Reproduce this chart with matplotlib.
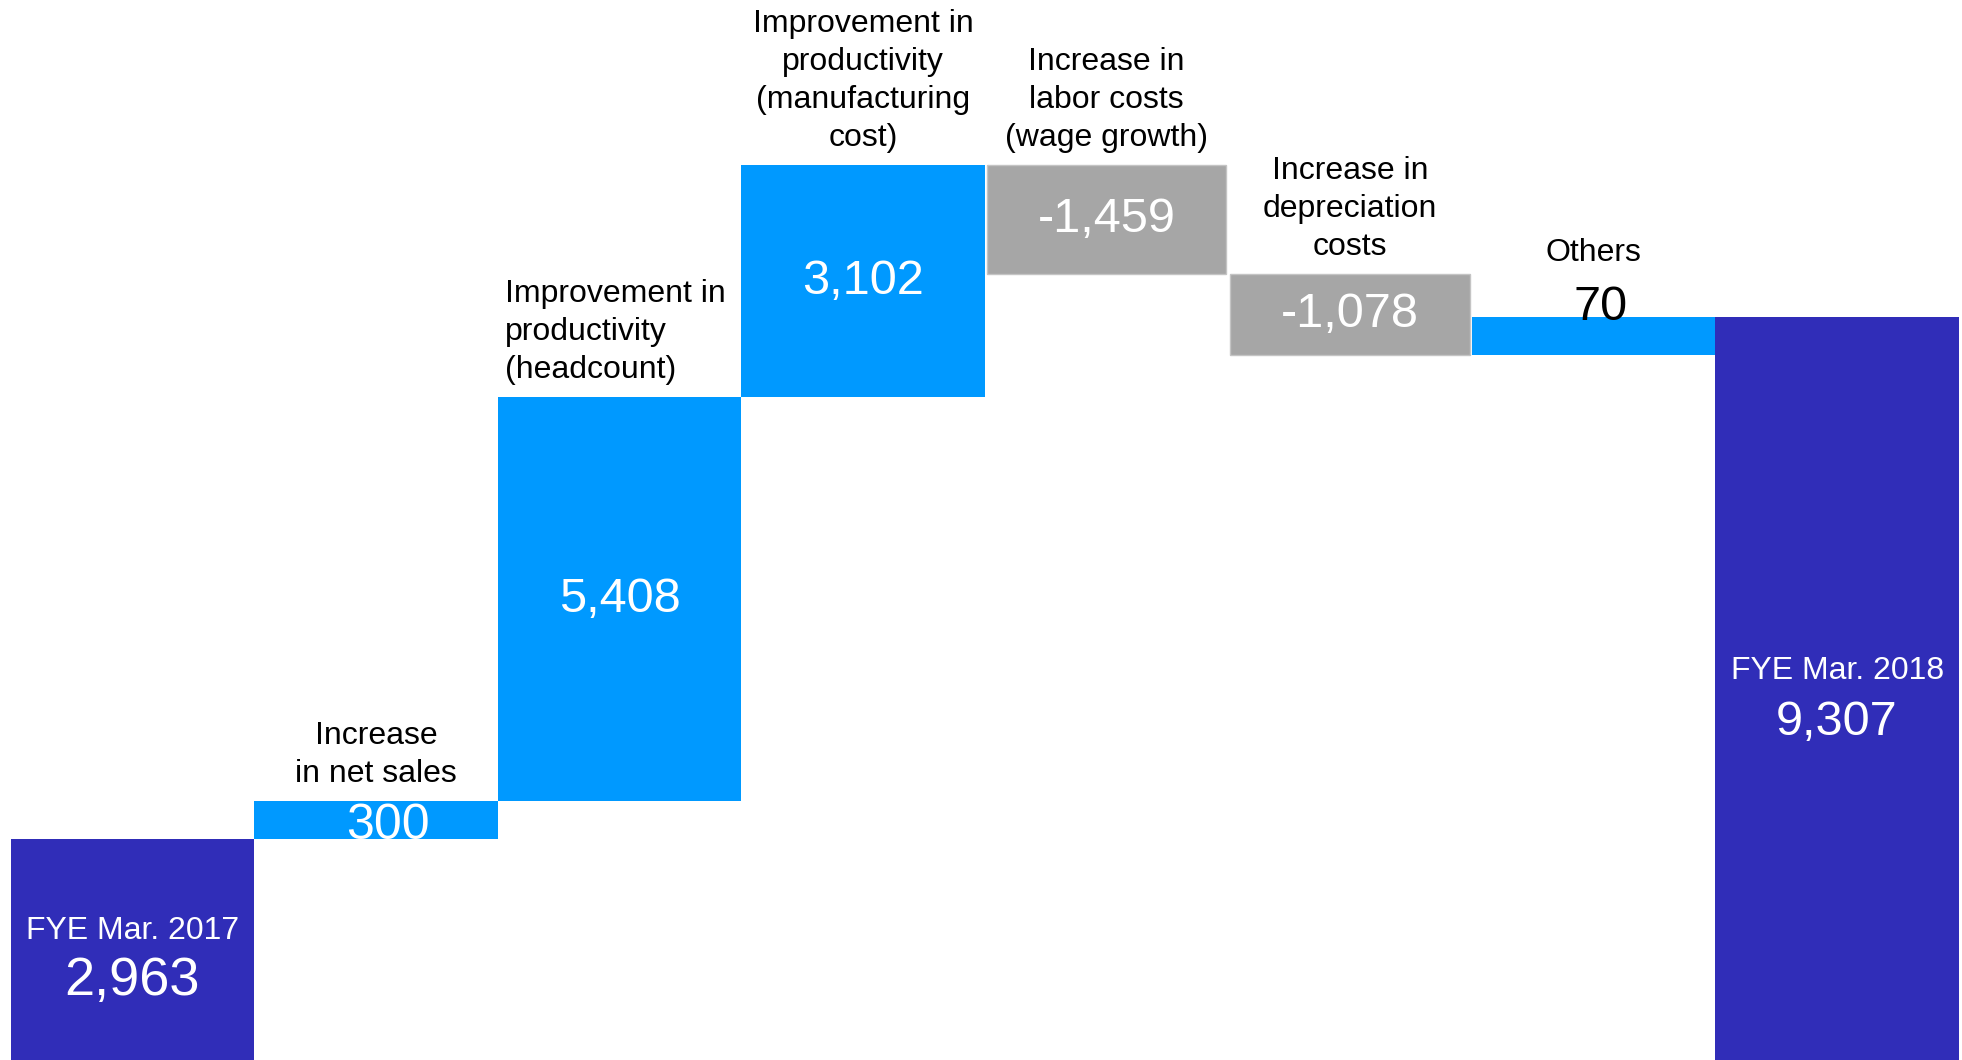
import matplotlib
matplotlib.use("Agg")
import matplotlib.pyplot as plt

plt.rcParams['font.family'] = ['Liberation Sans', 'DejaVu Sans']

# data
steps = ["FYE Mar. 2017", "Increase\nin net sales", "Improvement in\nproductivity\n(headcount)",
         "Improvement in\nproductivity\n(manufacturing\ncost)", "Increase in\nlabor costs\n(wage growth)",
         "Increase in\ndepreciation\ncosts", "Others", "FYE Mar. 2018"]
values = [2963, 300, 5408, 3102, -1459, -1078, 70, 9307]
kinds = ["total", "up", "up", "up", "down", "down", "up", "total"]

DARK = '#302DB8'
BLUE = '#0099FF'
GRAY = '#A6A6A6'
MIN_H = 500  # small steps are drawn with a minimum visible height

fig = plt.figure(figsize=(19.62, 10.6), dpi=100)
ax = fig.add_axes([0, 0, 1, 1])

level = 0
for i, (lab, v, k) in enumerate(zip(steps, values, kinds)):
    if k == "total":
        bottom = 0
        h = v if i == 0 else level
        level = h
        ax.bar(i, h, bottom=0, width=1.0, color=DARK, linewidth=0)
    else:
        h = max(abs(v), MIN_H)
        if v >= 0:
            bottom = level
            level += h
            ax.bar(i, h, bottom=bottom, width=1.0, color=BLUE, linewidth=0)
        else:
            level -= h
            bottom = level
            ax.bar(i, h, bottom=bottom, width=0.985, color=GRAY,
                   edgecolor='#C4C4C4', linewidth=1)
    top = bottom + h
    txt = "{:,}".format(v)

    if k == "total":
        mid = top / 2
        ax.annotate(lab, (i, mid), xytext=(0, 10), textcoords='offset pixels',
                    ha='center', va='baseline', color='white', fontsize=23)
        ax.annotate(txt, (i, mid), xytext=(0, -46), textcoords='offset pixels',
                    ha='center', va='baseline', color='white',
                    fontsize=39 if i == 0 else 35)
        continue

    # category label above the bar
    if i == 2:
        ax.annotate(lab, (i - 0.47, top), xytext=(0, 12), textcoords='offset pixels',
                    ha='left', va='bottom', fontsize=23, linespacing=1.35)
    elif i == 6:
        ax.annotate(lab, (i, top), xytext=(0, 56), textcoords='offset pixels',
                    ha='center', va='baseline', fontsize=23)
    else:
        ax.annotate(lab, (i, top), xytext=(0, 12), textcoords='offset pixels',
                    ha='center', va='bottom', fontsize=23, linespacing=1.35)

    # value label
    if i == 1:
        ax.annotate(txt, (i + 0.05, bottom), xytext=(0, 0), textcoords='offset pixels',
                    ha='center', va='baseline', color='white', fontsize=36)
    elif i == 6:
        ax.annotate(txt, (i + 0.03, top), xytext=(0, -3), textcoords='offset pixels',
                    ha='center', va='baseline', color='black', fontsize=35)
    else:
        ax.text(i, bottom + h / 2, txt, ha='center', va='center',
                color='white', fontsize=35)

ax.set_xlim(-0.544, 7.513)
ax.set_ylim(0, 14183)
ax.axis('off')

fig.savefig('out.png', dpi=100)
